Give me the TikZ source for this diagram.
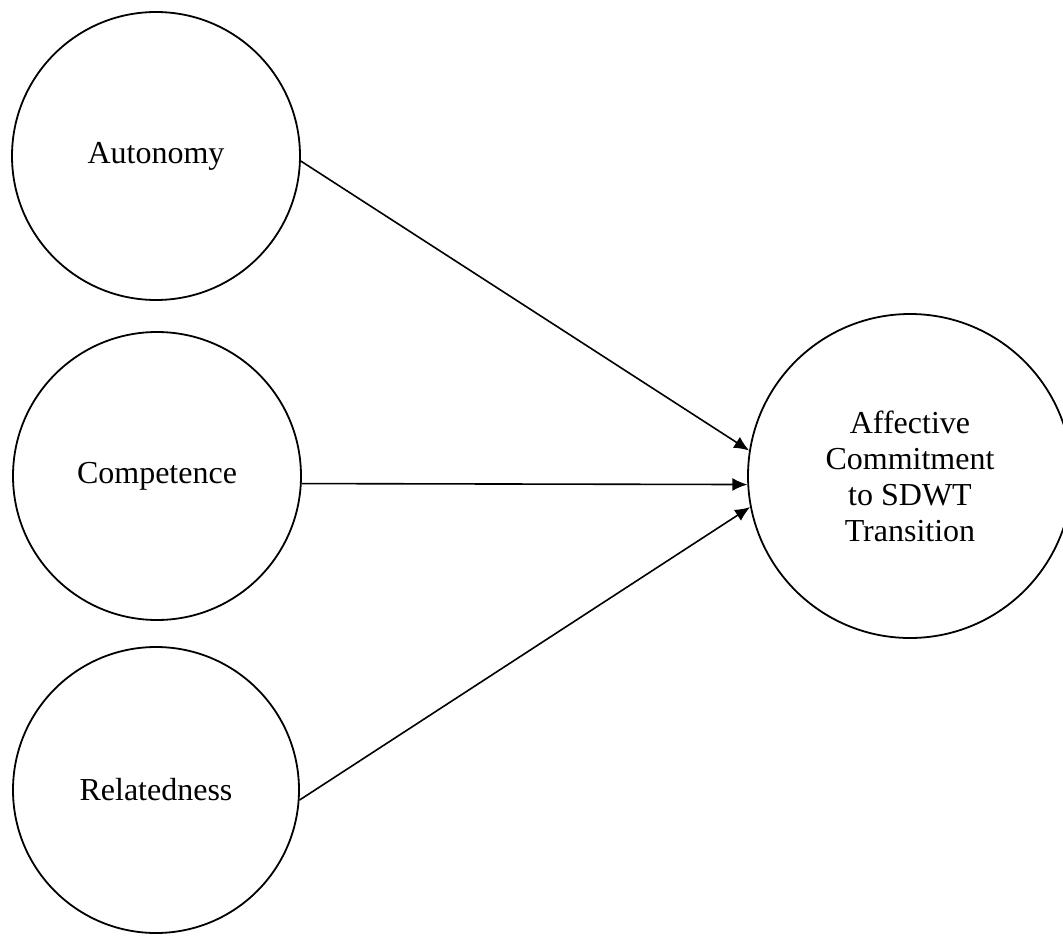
\documentclass[tikz,border=0pt]{standalone}
\usepackage{fontspec}
\setmainfont{Liberation Serif}
\usetikzlibrary{arrows.meta}
\begin{document}
\begin{tikzpicture}[x=1pt,y=-1pt,
  construct/.style={circle,draw=black,line width=1.8pt,inner sep=0pt,
    minimum size=#1,align=center,font=\fontsize{32}{36}\selectfont},
  path/.style={line width=1.6pt,-{Latex[length=15pt,width=13pt]}}]
  \useasboundingbox (0,0) rectangle (1063,936);
  \clip (0,0) rectangle (1063,936);
  % predictors
  \node[construct=288pt] (aut) at (156,156) {Autonomy};
  \node[construct=288pt] (com) at (157,476) {Competence};
  \node[construct=286pt] (rel) at (156,790) {Relatedness};
  % outcome
  \node[construct=324pt] (aff) at (910,476)
    {Affective\\Commitment\\to SDWT\\Transition};
  % hypothesised paths
  \draw[path] (aut.-2.7) -- (aff.171.6);
  \draw[path] (com.-3.2) -- (aff.183.2);
  \draw[path] (rel.-4) -- (aff.191.2);
\end{tikzpicture}
\end{document}
